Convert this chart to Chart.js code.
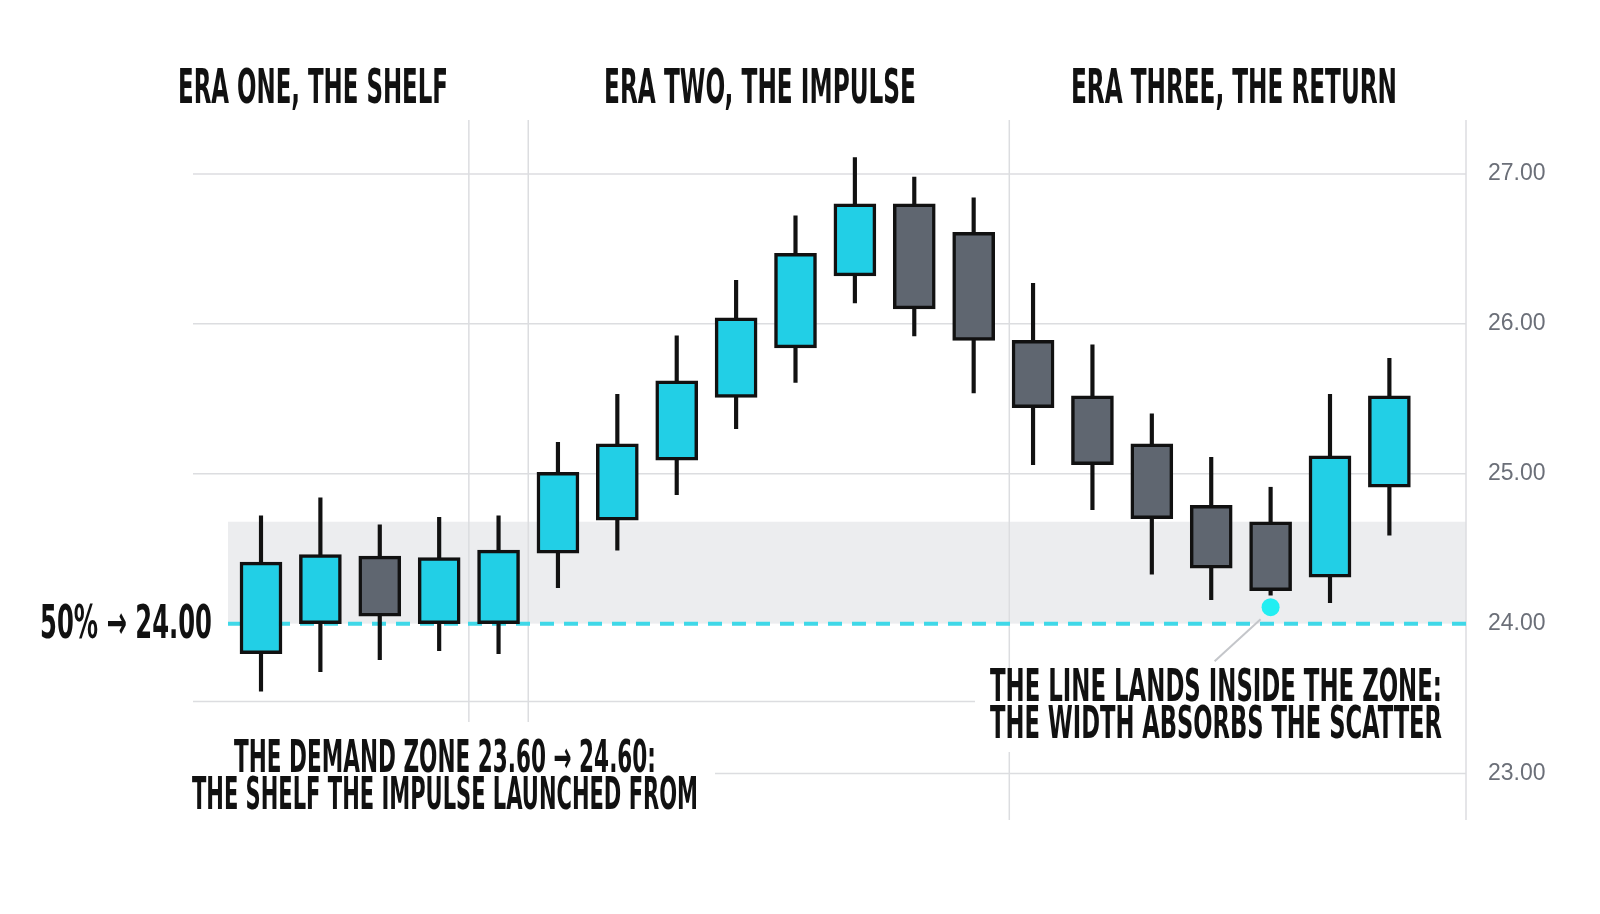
<!DOCTYPE html>
<html>
<head>
<meta charset="utf-8">
<script src="https://cdn.jsdelivr.net/npm/chart.js@4/dist/chart.umd.min.js"></script>
<style>
  body { margin: 0; background: #fff; }
  #wrap { width: 1600px; height: 914px; }
</style>
</head>
<body>
<div id="wrap"><canvas id="c" width="1600" height="914"></canvas></div>
<script>
// candles, index 1..20
var idx = [1,2,3,4,5,6,7,8,9,10,11,12,13,14,15,16,17,18,19,20];
var opens  = [23.80,24.00,24.45,24.00,24.00,24.47,24.69,25.09,25.51,25.84,26.32,26.80,26.61,25.89,25.52,25.20,24.79,24.68,24.31,24.91];
var closes = [24.41,24.46,24.05,24.44,24.49,25.01,25.20,25.62,26.04,26.47,26.80,26.10,25.89,25.44,25.06,24.70,24.37,24.22,25.12,25.52];
var highs  = [24.72,24.84,24.66,24.71,24.72,25.21,25.53,25.92,26.29,26.72,27.11,26.98,26.84,26.27,25.86,25.40,25.11,24.91,25.53,25.77];
var lows   = [23.55,23.68,23.76,23.82,23.80,24.24,24.49,24.86,25.30,25.61,26.14,25.92,25.54,25.06,24.76,24.33,24.16,24.19,24.14,24.59];
var yTicks = [23,24,25,26,27];
var eraTitles = ['ERA ONE, THE SHELF','ERA TWO, THE IMPULSE','ERA THREE, THE RETURN'];
var eraBounds = [4.5, 5.5, 13.6];
var midLevel = 24.00;
var zoneDrawn = [24.00, 24.68];
var touchIndex = 18, touchValue = 24.11;

var CYAN = '#22cfe6', DARK = '#5f6670';
var FONT = '"Liberation Sans Narrow", "DejaVu Sans Condensed", sans-serif';

function fitText(ctx, txt, x, y, w, size, align, color) {
  ctx.save();
  ctx.font = 'bold ' + size + 'px ' + FONT;
  var m = ctx.measureText(txt).width;
  var s = w / m;
  var left = align === 'center' ? x - w / 2 : (align === 'right' ? x - w : x);
  ctx.translate(left, y);
  ctx.scale(s, 1);
  ctx.fillStyle = color || '#111';
  ctx.textAlign = 'left';
  ctx.textBaseline = 'middle';
  ctx.fillText(txt, 0, 0);
  ctx.restore();
}

var decor = {
  id: 'decor',
  beforeDatasetsDraw: function (chart) {
    var ctx = chart.ctx, xs = chart.scales.x, ys = chart.scales.y, a = chart.chartArea;
    ctx.save();
    // zone
    ctx.fillStyle = 'rgba(200,202,208,0.35)';
    var zt = ys.getPixelForValue(zoneDrawn[1]), zb = ys.getPixelForValue(zoneDrawn[0]);
    ctx.fillRect(228, zt, a.right - 228, zb - zt);
    // horizontal grid
    ctx.strokeStyle = '#dcdde0'; ctx.lineWidth = 1.5;
    function h(v, x0, x1) { var y = ys.getPixelForValue(v); ctx.beginPath(); ctx.moveTo(x0, y); ctx.lineTo(x1, y); ctx.stroke(); }
    h(27, a.left, a.right); h(26, a.left, a.right); h(25, a.left, a.right);
    h(23.48, a.left, 975); h(23, 715, a.right);
    // vertical era lines + right border
    function v(val, y0, y1) { var x = xs.getPixelForValue(val); ctx.beginPath(); ctx.moveTo(x, y0); ctx.lineTo(x, y1); ctx.stroke(); }
    v(eraBounds[0], a.top, 722); v(eraBounds[1], a.top, 722);
    v(eraBounds[2], a.top, 672); v(eraBounds[2], 752, a.bottom);
    ctx.beginPath(); ctx.moveTo(a.right, a.top); ctx.lineTo(a.right, a.bottom); ctx.stroke();
    // dashed mid line
    var my = ys.getPixelForValue(midLevel);
    ctx.strokeStyle = '#3fd8e8'; ctx.lineWidth = 4; ctx.setLineDash([14, 10]);
    ctx.beginPath(); ctx.moveTo(228, my); ctx.lineTo(a.right, my); ctx.stroke();
    ctx.restore();
  },
  afterDatasetsDraw: function (chart) {
    var ctx = chart.ctx, xs = chart.scales.x, ys = chart.scales.y;
    ctx.save();
    var dx = xs.getPixelForValue(touchIndex), dy = ys.getPixelForValue(touchValue);
    ctx.strokeStyle = '#c4c6ca'; ctx.lineWidth = 2;
    ctx.beginPath(); ctx.moveTo(dx - 10, dy + 12); ctx.lineTo(dx - 56, dy + 54); ctx.stroke();
    ctx.fillStyle = '#22eef2';
    ctx.beginPath(); ctx.arc(dx, dy, 9, 0, Math.PI * 2); ctx.fill();
    // texts
    fitText(ctx, eraTitles[0], 313, 91, 270, 48, 'center');
    fitText(ctx, eraTitles[1], 760, 91, 312, 48, 'center');
    fitText(ctx, eraTitles[2], 1234, 91, 326, 48, 'center');
    fitText(ctx, '50% \u2192 24.00', 212, 626, 172, 46, 'right');
    fitText(ctx, 'THE DEMAND ZONE 23.60 \u2192 24.60:', 445, 761, 422, 44, 'center');
    fitText(ctx, 'THE SHELF THE IMPULSE LAUNCHED FROM', 445, 798, 506, 44, 'center');
    fitText(ctx, 'THE LINE LANDS INSIDE THE ZONE:', 990, 690, 452, 44, 'left');
    fitText(ctx, 'THE WIDTH ABSORBS THE SCATTER', 990, 727, 452, 44, 'left');
    ctx.restore();
  }
};

var wickData = idx.map(function (x, i) { return { x: x, y: [lows[i], highs[i]] }; });
var bodyData = idx.map(function (x, i) { return { x: x, y: [opens[i], closes[i]] }; });
var bodyColors = idx.map(function (x, i) { return closes[i] >= opens[i] ? CYAN : DARK; });

new Chart(document.getElementById('c'), {
  type: 'bar',
  data: {
    datasets: [
      { data: bodyData, backgroundColor: bodyColors, borderColor: '#111', borderWidth: 3.5,
        borderSkipped: false, barThickness: 42, grouped: false, order: 1 },
      { data: wickData, backgroundColor: '#111', borderWidth: 0,
        barThickness: 3.5, grouped: false, order: 2 }
    ]
  },
  plugins: [decor],
  options: {
    responsive: false, animation: false,
    layout: { padding: { left: 193, top: 120, right: 0, bottom: 94 } },
    plugins: { legend: { display: false }, tooltip: { enabled: false } },
    scales: {
      x: { type: 'linear', offset: false, min: -0.145, max: 21.29, display: false },
      y: {
        position: 'right', min: 22.69, max: 27.36,
        grid: { display: false }, border: { display: false },
        afterBuildTicks: function (s) { s.ticks = yTicks.map(function (v) { return { value: v }; }); },
        afterFit: function (s) { s.width = 134; },
        ticks: { padding: 14, color: '#6b6f78', font: { family: '"Liberation Sans Narrow", sans-serif', size: 23 },
                 callback: function (v) { return v.toFixed(2); } }
      }
    }
  }
});
</script>
</body>
</html>
